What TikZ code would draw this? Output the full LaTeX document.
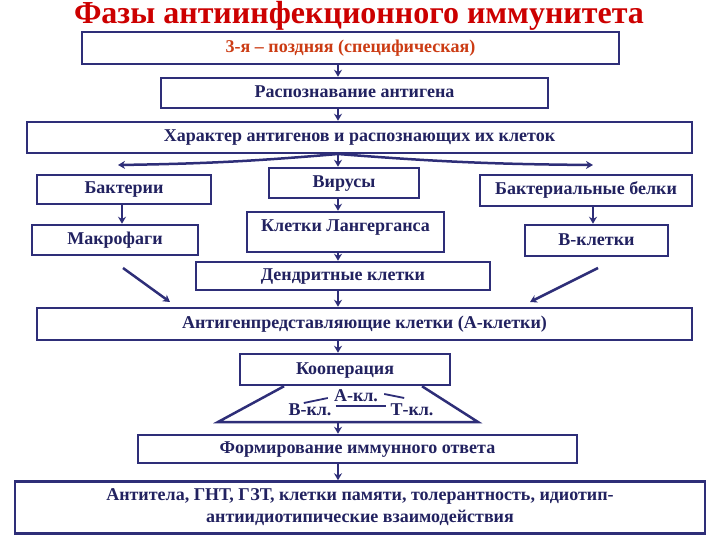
\documentclass[tikz,border=0pt]{standalone}
\usepackage{fontspec}
\setmainfont{Liberation Serif}
\usetikzlibrary{arrows.meta,calc}
\definecolor{navy}{RGB}{46,46,120}
\definecolor{ink}{RGB}{34,34,96}
\definecolor{titlered}{RGB}{204,0,0}
\definecolor{phase}{RGB}{204,60,20}
\begin{document}
\begin{tikzpicture}[x=1pt,y=-1pt,>={Stealth[length=7pt,width=8pt]},
  frame/.style={draw=navy,line width=2.5pt,fill=white,text=ink,inner sep=0pt,
    font=\fontsize{18}{22}\selectfont\bfseries},
  box/.style={frame,text height=12pt,text depth=3pt},
  link/.style={->,navy,line width=2.5pt},
  tie/.style={navy,line width=2.5pt},
  lbl/.style={text=ink,inner sep=0pt,font=\fontsize{18}{22}\selectfont\bfseries}]
  \useasboundingbox (0,0) rectangle (720,540);
  \coordinate (spine) at (338,0);
  % title
  \node[text=titlered,font=\fontsize{32}{36}\selectfont\bfseries] (title) at (359,16) {Фазы антиинфекционного иммунитета};
  % boxes
  \node[box,text=phase,minimum width=537,minimum height=32] (late) at (350.5,48) {3-я -- поздняя (специфическая)};
  \node[box,minimum width=387,minimum height=30] (recog) at (354.5,93) {Распознавание антигена};
  \node[box,minimum width=665,minimum height=31] (kind) at (359.5,137.5) {Характер антигенов и распознающих их клеток};
  \node[box,minimum width=174,minimum height=29] (bact) at (124,189.5) {Бактерии};
  \node[box,minimum width=150,minimum height=30] (vir) at (344,183) {Вирусы};
  \node[box,minimum width=212,minimum height=31] (prot) at (586,190.5) {Бактериальные белки};
  \node[box,minimum width=166,minimum height=30] (macro) at (115,240) {Макрофаги};
  \node[box,minimum width=197,minimum height=40,text depth=12pt] (lang) at (345.5,232) {Клетки Лангерганса};
  \node[box,minimum width=143,minimum height=31] (bcell) at (596.5,240.5) {В-клетки};
  \node[box,minimum width=294,minimum height=28] (dend) at (343,276) {Дендритные клетки};
  \node[box,minimum width=655,minimum height=32] (apc) at (364.5,324) {Антигенпредставляющие клетки (А-клетки)};
  \node[box,minimum width=210,minimum height=31] (coop) at (345,369.5) {Кооперация};
  \node[box,minimum width=439,minimum height=28] (form) at (357.5,449) {Формирование иммунного ответа};
  \node[frame,minimum width=690,minimum height=52,align=center] (result) at (360,507.5) {Антитела, ГНТ, ГЗТ, клетки памяти, толерантность, идиотип-\\антиидиотипические взаимодействия};
  % cooperation labels
  \node[lbl] (acl) at (356,396) {А-кл.};
  \node[lbl] (bcl) at (310,410) {В-кл.};
  \node[lbl] (tcl) at (412,410) {Т-кл.};
  % free ends
  \coordinate (fork) at (338,154);
  \coordinate (toBact) at (118,165);
  \coordinate (toProt) at (593,165);
  \coordinate (mFrom) at (123,268);
  \coordinate (mTo) at (170,302);
  \coordinate (bFrom) at (598,268);
  \coordinate (bTo) at (530,302);
  \coordinate (triL) at (218,422);
  \coordinate (triR) at (478,422);
  % arrows
  \draw[link] (late.south -| spine) -- (recog.north -| spine);
  \draw[link] (recog.south -| spine) -- (kind.north -| spine);
  \draw[link] (fork) to[bend left=2] (toBact);
  \draw[link] (fork) to[bend right=2] (toProt);
  \draw[link] (kind.south -| spine) -- (vir.north -| spine);
  \draw[link] (bact.south -| 122,0) -- (macro.north -| 122,0);
  \draw[link] (prot.south -| 593,0) -- (bcell.north -| 593,0);
  \draw[link] (vir.south -| spine) -- (lang.north -| spine);
  \draw[link] (lang.south -| spine) -- (dend.north -| spine);
  \draw[link] (mFrom) -- (mTo);
  \draw[link] (bFrom) -- (bTo);
  \draw[link] (dend.south -| spine) -- (apc.north -| spine);
  \draw[link] (apc.south -| spine) -- (coop.north -| spine);
  \draw[tie] (coop.south -| 284,0) -- (triL) -- (triR) -- (coop.south -| 422,0);
  \draw[link] (triL -| spine) -- (form.north -| spine);
  \draw[link] (form.south -| spine) -- (result.north -| spine);
  % links between cells
  \draw[tie,line width=1.8pt] ($(acl.west)+(-30,7)$) -- ($(acl.west)+(-6,2)$);
  \draw[tie,line width=1.8pt] ($(acl.east)+(6,-2)$) -- ++(20,4);
  \draw[tie,line width=1.8pt] ($(bcl.east)+(4,-4)$) -- ($(tcl.west)+(-4,-4)$);
\end{tikzpicture}
\end{document}
